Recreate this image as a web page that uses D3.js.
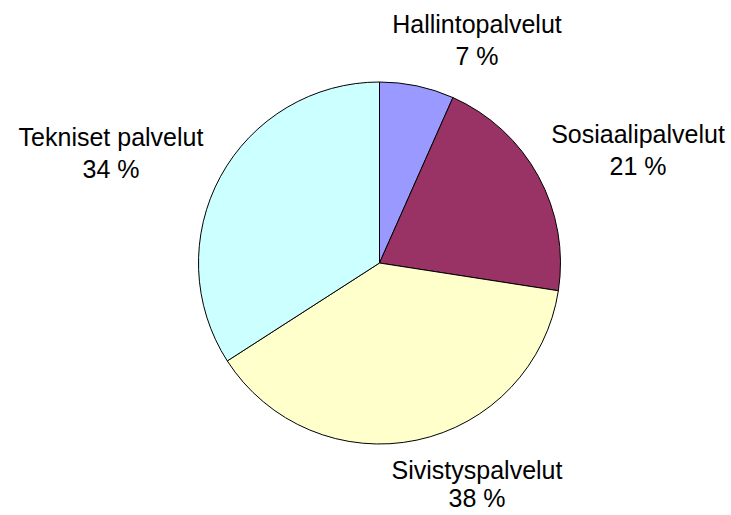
<!DOCTYPE html>
<html>
<head>
<meta charset="utf-8">
<script src="https://cdn.jsdelivr.net/npm/d3@7"></script>
<style>
  html, body { margin: 0; padding: 0; background: #fff; }
  svg { display: block; }
  text { font-family: Arial, "Liberation Sans", sans-serif; fill: #000; }
</style>
</head>
<body>
<svg id="chart" width="731" height="515"></svg>
<script>
// Data
const categories = ["Hallintopalvelut", "Sosiaalipalvelut", "Sivistyspalvelut", "Tekniset palvelut"];
const values = [6.65, 20.8, 38.45, 34.1];
const colors = ["#9999FF", "#993366", "#FFFFCC", "#CCFFFF"];

// Layout (label placement, not data): [x, first baseline, line gap]
const labelLayout = {
  "Hallintopalvelut": [477, 33, 32],
  "Sosiaalipalvelut": [638, 143, 32],
  "Sivistyspalvelut": [477, 479, 28],
  "Tekniset palvelut": [111, 146, 32]
};

const svg = d3.select("#chart");
const cx = 379.5, cy = 263, r = 181;
const total = d3.sum(values);
const rows = categories.map((c, i) => ({ name: c, value: values[i], color: colors[i] }));

const pie = d3.pie().value(d => d.value).sort(null);
const arc = d3.arc().innerRadius(0).outerRadius(r);

const g = svg.append("g").attr("transform", `translate(${cx},${cy})`);
g.selectAll("path")
  .data(pie(rows))
  .join("path")
  .attr("d", arc)
  .attr("fill", d => d.data.color)
  .attr("stroke", "#000")
  .attr("stroke-width", 1)
  .attr("stroke-linejoin", "round");

const fs = 25;
const labels = svg.selectAll("g.lbl")
  .data(rows)
  .join("g")
  .attr("class", "lbl")
  .attr("transform", d => `translate(${labelLayout[d.name][0]},${labelLayout[d.name][1]})`);
labels.append("text")
  .attr("text-anchor", "middle")
  .attr("font-size", fs)
  .text(d => d.name);
labels.append("text")
  .attr("text-anchor", "middle")
  .attr("font-size", fs)
  .attr("y", d => labelLayout[d.name][2])
  .text(d => Math.round(d.value / total * 100) + " %");
</script>
</body>
</html>
